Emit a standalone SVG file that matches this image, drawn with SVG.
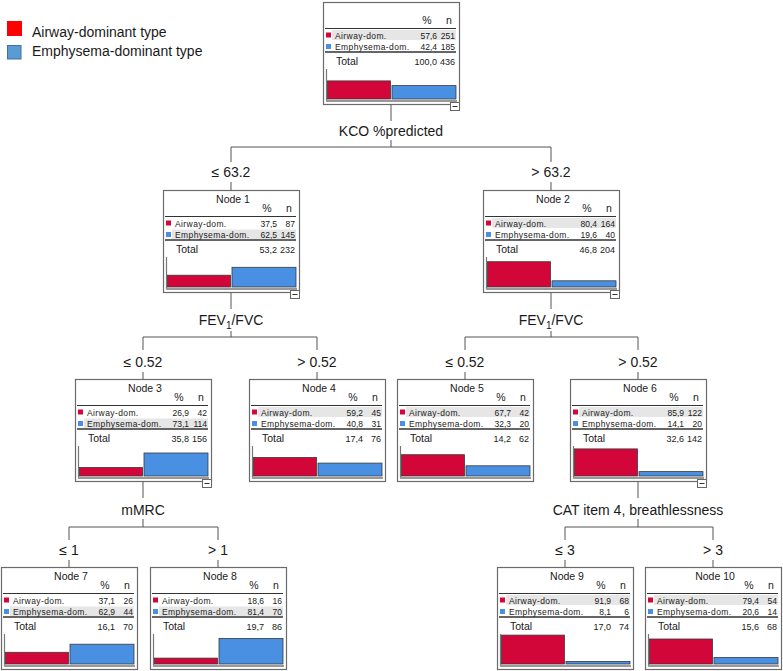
<svg xmlns="http://www.w3.org/2000/svg" width="783" height="671" viewBox="0 0 783 671">
<style>
text{font-family:"Liberation Sans",Arial,sans-serif;fill:#1a1a1a}
.box{fill:#fff;stroke:#6b6b6b;stroke-width:1.2}
.hd{font-size:10.5px}
.c{text-anchor:middle}
.cat{font-size:8.5px;letter-spacing:0.4px}
.num{font-size:8.5px;text-anchor:end}
.tot{font-size:10.5px}
.totn{font-size:9px;text-anchor:end}
.lbl{font-size:14px;text-anchor:middle}
.hl{fill:#e6e6e6}
.ln{stroke:#333;stroke-width:1}
.ul{stroke:#333;stroke-width:1.3}
.ax{stroke:#777;stroke-width:1.2}
.base{stroke:#999;stroke-width:2}
.red{fill:#d3063a;stroke:#3a3a3a;stroke-width:0.8}
.blue{fill:#4a90e2;stroke:#3a3a3a;stroke-width:0.8}
.sqr{fill:#d3063a}
.sqb{fill:#4a90e2}
.mb{fill:#fff;stroke:#666;stroke-width:1}
.conn{stroke:#555;stroke-width:1;fill:none}
</style>
<defs>
<g id="frame">
<rect class="box" x="0.5" y="0.5" width="136" height="102"/>
<line class="ln" x1="2" y1="26.5" x2="133" y2="26.5"/>
<rect class="sqr" x="3" y="30.5" width="5" height="5"/>
<rect class="sqb" x="3" y="42" width="5" height="5"/>
<line class="ax" x1="3.5" y1="67" x2="3.5" y2="99"/>
<line class="base" x1="3" y1="99" x2="134" y2="99"/>
</g>
<g id="rows">
<text class="hd c" x="104" y="22">%</text>
<text class="hd c" x="126" y="22">n</text>
<text class="cat" x="12" y="36.5">Airway-dom.</text>
<text class="cat" x="12" y="48">Emphysema-dom.</text>
<line class="ul" x1="2" y1="50" x2="133" y2="50"/>
<text class="tot" x="13" y="63">Total</text>
</g>
<g id="minus">
<rect class="mb" x="127.5" y="100.5" width="9" height="8"/>
<line class="ln" x1="129.5" y1="104.5" x2="134.5" y2="104.5"/>
</g>
</defs>

<g id="legend">
<rect x="7" y="21" width="15" height="15" fill="#ff0000"/>
<text x="32" y="37" font-size="14">Airway-dominant type</text>
<rect x="7.5" y="45.5" width="13.5" height="13.5" fill="#5b9bd5" stroke="#41719c" stroke-width="1"/>
<text x="32" y="56" font-size="14">Emphysema-dominant type</text>
</g>

<g id="connectors">
<path class="conn" d="M391,104V121M391,140V147M231,147H551M231,147V162M551,147V162M231,182V190M551,182V190"/>
<path class="conn" d="M231,293V309M231,331V337M143,337H317M143,337V350M317,337V350M143,372V379M317,372V379"/>
<path class="conn" d="M551,293V309M551,331V337M465,337H638M465,337V350M638,337V350M465,372V379M638,372V379"/>
<path class="conn" d="M143,482V498M143,519V527M69,527H218M69,527V540M218,527V540M69,560V567M218,560V567"/>
<path class="conn" d="M638,482V498M638,519V527M565,527H713M565,527V540M713,527V540M565,560V567M713,560V567"/>
</g>

<g id="labels">
<text class="lbl" x="391" y="136">KCO %predicted</text>
<text class="lbl" x="231" y="177">≤ 63.2</text>
<text class="lbl" x="551" y="177">&gt; 63.2</text>
<text class="lbl" x="231" y="325">FEV<tspan font-size="10" dy="4">1</tspan><tspan dy="-4">/FVC</tspan></text>
<text class="lbl" x="551" y="325">FEV<tspan font-size="10" dy="4">1</tspan><tspan dy="-4">/FVC</tspan></text>
<text class="lbl" x="143" y="367">≤ 0.52</text>
<text class="lbl" x="317" y="367">&gt; 0.52</text>
<text class="lbl" x="465" y="367">≤ 0.52</text>
<text class="lbl" x="638" y="367">&gt; 0.52</text>
<text class="lbl" x="143" y="515">mMRC</text>
<text class="lbl" x="638" y="515">CAT item 4, breathlessness</text>
<text class="lbl" x="69" y="555">≤ 1</text>
<text class="lbl" x="218" y="555">&gt; 1</text>
<text class="lbl" x="565" y="555">≤ 3</text>
<text class="lbl" x="713" y="555">&gt; 3</text>
</g>

<g id="node0" transform="translate(323,2)">
<use href="#frame"/>
<rect class="hl" x="9" y="28" width="124" height="10"/>
<use href="#rows"/>
<text class="num" x="114" y="36.5">57,6</text><text class="num" x="132" y="36.5">251</text>
<text class="num" x="114" y="48">42,4</text><text class="num" x="132" y="48">185</text>
<text class="totn" x="114" y="63">100,0</text><text class="totn" x="132" y="63">436</text>
<rect class="red" x="4.5" y="78.9" width="63" height="18.1"/>
<rect class="blue" x="69" y="83.6" width="64" height="13.4"/>
<use href="#minus"/>
</g>

<g id="node1" transform="translate(163,190)">
<use href="#frame"/>
<rect class="hl" x="9" y="39.5" width="124" height="9.5"/>
<use href="#rows"/>
<text class="hd c" x="70" y="13">Node 1</text>
<text class="num" x="114" y="36.5">37,5</text><text class="num" x="132" y="36.5">87</text>
<text class="num" x="114" y="48">62,5</text><text class="num" x="132" y="48">145</text>
<text class="totn" x="114" y="63">53,2</text><text class="totn" x="132" y="63">232</text>
<rect class="red" x="4.5" y="85.2" width="63" height="11.8"/>
<rect class="blue" x="69" y="77.3" width="64" height="19.7"/>
<use href="#minus"/>
</g>

<g id="node2" transform="translate(483,190)">
<use href="#frame"/>
<rect class="hl" x="9" y="28" width="124" height="10"/>
<use href="#rows"/>
<text class="hd c" x="70" y="13">Node 2</text>
<text class="num" x="114" y="36.5">80,4</text><text class="num" x="132" y="36.5">164</text>
<text class="num" x="114" y="48">19,6</text><text class="num" x="132" y="48">40</text>
<text class="totn" x="114" y="63">46,8</text><text class="totn" x="132" y="63">204</text>
<rect class="red" x="4.5" y="71.7" width="63" height="25.3"/>
<rect class="blue" x="69" y="90.8" width="64" height="6.2"/>
<use href="#minus"/>
</g>

<g id="node3" transform="translate(75,379)">
<use href="#frame"/>
<rect class="hl" x="9" y="39.5" width="124" height="9.5"/>
<use href="#rows"/>
<text class="hd c" x="70" y="13">Node 3</text>
<text class="num" x="114" y="36.5">26,9</text><text class="num" x="132" y="36.5">42</text>
<text class="num" x="114" y="48">73,1</text><text class="num" x="132" y="48">114</text>
<text class="totn" x="114" y="63">35,8</text><text class="totn" x="132" y="63">156</text>
<rect class="red" x="4.5" y="88.5" width="63" height="8.5"/>
<rect class="blue" x="69" y="74" width="64" height="23"/>
<use href="#minus"/>
</g>

<g id="node4" transform="translate(249,379)">
<use href="#frame"/>
<rect class="hl" x="9" y="28" width="124" height="10"/>
<use href="#rows"/>
<text class="hd c" x="70" y="13">Node 4</text>
<text class="num" x="114" y="36.5">59,2</text><text class="num" x="132" y="36.5">45</text>
<text class="num" x="114" y="48">40,8</text><text class="num" x="132" y="48">31</text>
<text class="totn" x="114" y="63">17,4</text><text class="totn" x="132" y="63">76</text>
<rect class="red" x="4.5" y="78.4" width="63" height="18.6"/>
<rect class="blue" x="69" y="84.1" width="64" height="12.9"/>
</g>

<g id="node5" transform="translate(397,379)">
<use href="#frame"/>
<rect class="hl" x="9" y="28" width="124" height="10"/>
<use href="#rows"/>
<text class="hd c" x="70" y="13">Node 5</text>
<text class="num" x="114" y="36.5">67,7</text><text class="num" x="132" y="36.5">42</text>
<text class="num" x="114" y="48">32,3</text><text class="num" x="132" y="48">20</text>
<text class="totn" x="114" y="63">14,2</text><text class="totn" x="132" y="63">62</text>
<rect class="red" x="4.5" y="75.7" width="63" height="21.3"/>
<rect class="blue" x="69" y="86.8" width="64" height="10.2"/>
</g>

<g id="node6" transform="translate(570,379)">
<use href="#frame"/>
<rect class="hl" x="9" y="28" width="124" height="10"/>
<use href="#rows"/>
<text class="hd c" x="70" y="13">Node 6</text>
<text class="num" x="114" y="36.5">85,9</text><text class="num" x="132" y="36.5">122</text>
<text class="num" x="114" y="48">14,1</text><text class="num" x="132" y="48">20</text>
<text class="totn" x="114" y="63">32,6</text><text class="totn" x="132" y="63">142</text>
<rect class="red" x="4.5" y="69.9" width="63" height="27.1"/>
<rect class="blue" x="69" y="92.6" width="64" height="4.4"/>
<use href="#minus"/>
</g>

<g id="node7" transform="translate(1,567)">
<use href="#frame"/>
<rect class="hl" x="9" y="39.5" width="124" height="9.5"/>
<use href="#rows"/>
<text class="hd c" x="70" y="13">Node 7</text>
<text class="num" x="114" y="36.5">37,1</text><text class="num" x="132" y="36.5">26</text>
<text class="num" x="114" y="48">62,9</text><text class="num" x="132" y="48">44</text>
<text class="totn" x="114" y="63">16,1</text><text class="totn" x="132" y="63">70</text>
<rect class="red" x="4.5" y="85.3" width="63" height="11.7"/>
<rect class="blue" x="69" y="77.2" width="64" height="19.8"/>
</g>

<g id="node8" transform="translate(150,567)">
<use href="#frame"/>
<rect class="hl" x="9" y="39.5" width="124" height="9.5"/>
<use href="#rows"/>
<text class="hd c" x="70" y="13">Node 8</text>
<text class="num" x="114" y="36.5">18,6</text><text class="num" x="132" y="36.5">16</text>
<text class="num" x="114" y="48">81,4</text><text class="num" x="132" y="48">70</text>
<text class="totn" x="114" y="63">19,7</text><text class="totn" x="132" y="63">86</text>
<rect class="red" x="4.5" y="91.1" width="63" height="5.9"/>
<rect class="blue" x="69" y="71.4" width="64" height="25.6"/>
</g>

<g id="node9" transform="translate(497,567)">
<use href="#frame"/>
<rect class="hl" x="9" y="28" width="124" height="10"/>
<use href="#rows"/>
<text class="hd c" x="70" y="13">Node 9</text>
<text class="num" x="114" y="36.5">91,9</text><text class="num" x="132" y="36.5">68</text>
<text class="num" x="114" y="48">8,1</text><text class="num" x="132" y="48">6</text>
<text class="totn" x="114" y="63">17,0</text><text class="totn" x="132" y="63">74</text>
<rect class="red" x="4.5" y="68.1" width="63" height="28.9"/>
<rect class="blue" x="69" y="94.4" width="64" height="2.6"/>
</g>

<g id="node10" transform="translate(645,567)">
<use href="#frame"/>
<rect class="hl" x="9" y="28" width="124" height="10"/>
<use href="#rows"/>
<text class="hd c" x="70" y="13">Node 10</text>
<text class="num" x="114" y="36.5">79,4</text><text class="num" x="132" y="36.5">54</text>
<text class="num" x="114" y="48">20,6</text><text class="num" x="132" y="48">14</text>
<text class="totn" x="114" y="63">15,6</text><text class="totn" x="132" y="63">68</text>
<rect class="red" x="4.5" y="72" width="63" height="25"/>
<rect class="blue" x="69" y="90.5" width="64" height="6.5"/>
</g>
</svg>
